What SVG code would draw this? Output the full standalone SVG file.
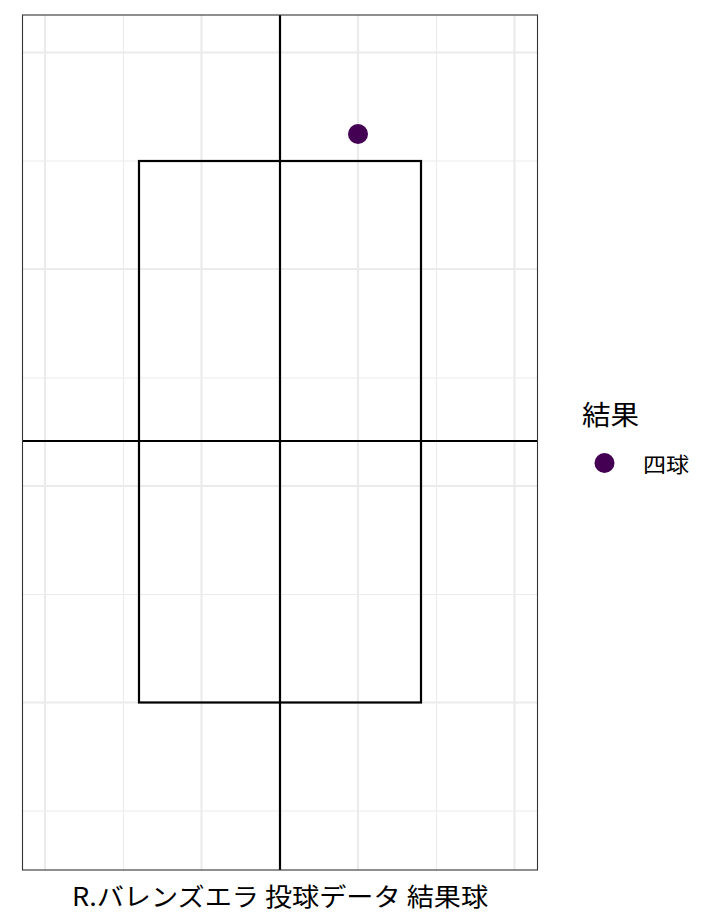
<svg xmlns="http://www.w3.org/2000/svg" width="720" height="921" viewBox="0 0 720 921">
<style>
.maj{stroke:#EBEBEB;stroke-width:2.1;fill:none}
.min{stroke:#EBEBEB;stroke-width:1.1;fill:none}
.blk{stroke:#000;stroke-width:2.2;fill:none}
.t{font-family:"Noto Sans CJK JP","Noto Sans",sans-serif;fill:#000}
</style>
<rect width="720" height="921" fill="#fff"/>
<g id="grid">
<path class="min" d="M123.5 15V870M280 15V870M436.5 15V870M22.5 161H537.5M22.5 378H537.5M22.5 594.5H537.5M22.5 811H537.5"/>
<path class="maj" d="M45 15V870M201.5 15V870M358 15V870M514.5 15V870M22.5 52.5H537.5M22.5 269H537.5M22.5 486H537.5M22.5 702.5H537.5"/>
</g>
<g id="connectors">
<path class="blk" d="M280 15V870M22.5 441H537.5"/>
</g>
<g id="zone"><rect class="blk" x="139" y="161" width="282" height="541.5"/></g>
<g id="point"><circle cx="358" cy="134" r="10" fill="#440154"/></g>
<rect x="22.5" y="15" width="515" height="855" fill="none" stroke="#333" stroke-width="1.1"/>
<g id="legend">
<text class="t" x="582" y="425" font-size="27" textLength="57" lengthAdjust="spacingAndGlyphs">結果</text>
<circle cx="604.5" cy="463" r="10" fill="#440154"/>
<text class="t" x="643" y="472" font-size="21" textLength="46" lengthAdjust="spacingAndGlyphs">四球</text>
</g>
<text class="t" x="72" y="906" font-size="25" textLength="416" lengthAdjust="spacingAndGlyphs">R.バレンズエラ 投球データ 結果球</text>
</svg>
